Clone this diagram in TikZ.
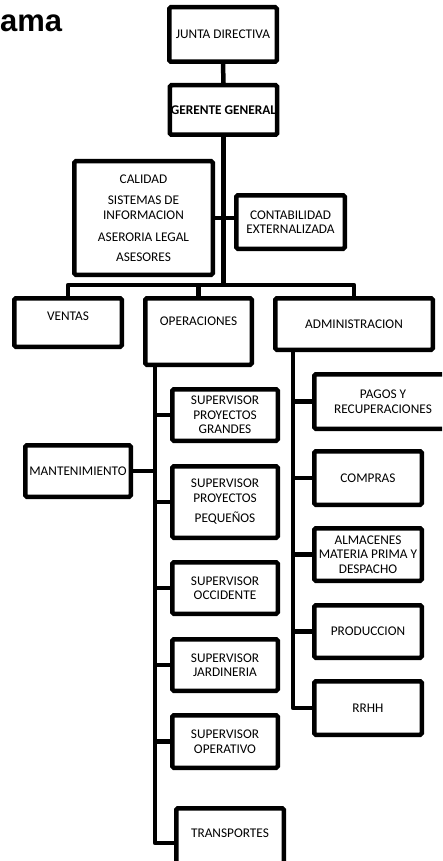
\documentclass[tikz,border=0pt]{standalone}
\usepackage{fontspec}
\setmainfont{Carlito}
\newfontfamily\titlefont{Liberation Sans}
\tikzset{
  orgbox/.style={draw, line width=4.5pt, rounded corners=1.5pt, fill=white, align=center, inner sep=1pt, font=\fontsize{13.3}{14.5}\selectfont},
  link/.style={line width=4.5pt, line join=round},
  txt/.style={font=\fontsize{13.3}{14.5}\selectfont, inner sep=0pt, align=center}
}
\begin{document}
\begin{tikzpicture}[x=1pt,y=-1pt]
\useasboundingbox (0,0) rectangle (442,861);
\clip (0,0) rectangle (442,861);
\fill[white] (0,0) rectangle (442,861);
\node[anchor=base west, inner sep=0pt, font=\titlefont\bfseries\fontsize{31}{31}\selectfont] (title) at (0,31.5) {ama};

\node[orgbox, minimum width=107.5pt, minimum height=54.5pt] (jd) at (223,34.5) {JUNTA DIRECTIVA};
\node[orgbox, minimum width=106.5pt, minimum height=49.5pt, font=\fontsize{13.3}{14.5}\selectfont\bfseries] (gg) at (223.5,110) {GERENTE GENERAL};
\node[orgbox, minimum width=138.5pt, minimum height=113.5pt] (cal) at (143.5,218) {CALIDAD\\[6.5pt]SISTEMAS DE\\INFORMACION\\[7.5pt]ASERORIA LEGAL\\[5.5pt]ASESORES};
\node[orgbox, minimum width=108.5pt, minimum height=53.5pt] (cont) at (290.5,222) {CONTABILIDAD\\EXTERNALIZADA};

\node[orgbox, minimum width=107.5pt, minimum height=48.5pt] (ventas) at (68,322.5) {};
\node[txt] (ventasT) at (68,316) {VENTAS};
\node[orgbox, minimum width=106.5pt, minimum height=66.5pt] (ops) at (198.5,331.5) {};
\node[txt] (opsT) at (198.5,321) {OPERACIONES};
\node[orgbox, minimum width=157.5pt, minimum height=51.5pt] (admin) at (354,324) {ADMINISTRACION};

\node[orgbox, minimum width=105.5pt, minimum height=51.5pt] (spg) at (225,415) {SUPERVISOR\\PROYECTOS\\GRANDES};
\node[orgbox, minimum width=105.5pt, minimum height=51.5pt] (mant) at (78,471) {MANTENIMIENTO};
\node[orgbox, minimum width=105.5pt, minimum height=71.5pt] (spp) at (225,502) {SUPERVISOR\\PROYECTOS\\[6pt]PEQUEÑOS};
\node[orgbox, minimum width=105.5pt, minimum height=51.5pt] (socc) at (225,588) {SUPERVISOR\\OCCIDENTE};
\node[orgbox, minimum width=105.5pt, minimum height=51.5pt] (sjard) at (225,665) {SUPERVISOR\\JARDINERIA};
\node[orgbox, minimum width=105.5pt, minimum height=52.5pt] (soper) at (225,741.5) {SUPERVISOR\\OPERATIVO};
\node[orgbox, minimum width=107.5pt, minimum height=69.5pt] (transp) at (230,843) {};
\node[txt] (transpT) at (230,833) {TRANSPORTES};

\node[orgbox, minimum width=137.5pt, minimum height=54.5pt] (pagos) at (383,401.5) {PAGOS Y\\RECUPERACIONES};
\node[orgbox, minimum width=107.5pt, minimum height=53.5pt] (compras) at (368,478) {COMPRAS};
\node[orgbox, minimum width=107.5pt, minimum height=52.5pt] (almac) at (368,554.5) {ALMACENES\\MATERIA PRIMA Y\\DESPACHO};
\node[orgbox, minimum width=107.5pt, minimum height=52.5pt] (produc) at (368,631.5) {PRODUCCION};
\node[orgbox, minimum width=107.5pt, minimum height=53.5pt] (rrhh) at (368,708) {RRHH};

\coordinate (spine) at (155,0);
\coordinate (aspine) at (293,0);
\coordinate (bar) at (0,285);

\draw[link] (jd.south) -- (gg.north);
\draw[link] (gg.south) -- (gg.south |- bar);
\draw[link] (cal.east) -- (cal.east -| cont.west);
\draw[link] (ventas.north) -- (ventas.north |- bar) -| (admin.north);
\draw[link] (ops.north) -- (ops.north |- bar);
\draw[link] (ops.south -| spine) |- (transp.west);
\foreach \n in {spg,spp,socc,sjard,soper} \draw[link] (spine |- \n.west) -- (\n.west);
\draw[link] (mant.east) -- (mant.east -| spine);
\draw[link] (admin.south -| aspine) |- (rrhh.west);
\foreach \n in {pagos,compras,almac,produc} \draw[link] (aspine |- \n.west) -- (\n.west);
\end{tikzpicture}
\end{document}
